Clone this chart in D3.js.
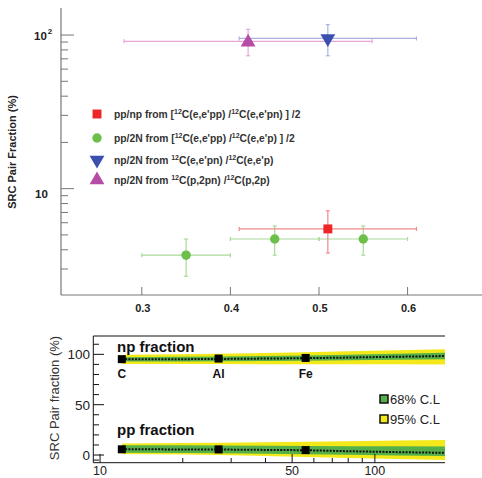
<!DOCTYPE html>
<html><head><meta charset="utf-8">
<script src="https://cdn.jsdelivr.net/npm/d3@7"></script>
<style>body{margin:0;background:#fff}svg{display:block}text{font-family:"Liberation Sans",Arial,sans-serif}</style>
</head><body>
<svg id="c" width="482" height="478"></svg>
<script>
// ---------- Top panel data ----------
const xTicksTop = [0.3, 0.4, 0.5, 0.6];
const yMajorTop = [10, 100];
const yMinorTop = [3,4,5,6,7,8,9,20,30,40,50,60,70,80,90];
// each: x, y, xlo, xhi, ylo, yhi
const ppnpX = [0.51], ppnpY = [5.47], ppnpXlo = [0.41], ppnpXhi = [0.61], ppnpYlo = [3.81], ppnpYhi = [7.17];
const pp2nX = [0.35, 0.45, 0.55], pp2nY = [3.69, 4.7, 4.7], pp2nXlo = [0.30, 0.40, 0.50], pp2nXhi = [0.40, 0.50, 0.60], pp2nYlo = [2.69, 3.69, 3.69], pp2nYhi = [4.7, 5.72, 5.72];
const npeX = [0.51], npeY = [95], npeXlo = [0.41], npeXhi = [0.61], npeYlo = [73.3], npeYhi = [117];
const nppX = [0.42], nppY = [91], nppXlo = [0.28], nppXhi = [0.56], nppYlo = [73.3], nppYhi = [109];
const legendLabels = [
  ["pp/np from [", "12", "C(e,e'pp) /", "12", "C(e,e'pn) ] /2"],
  ["pp/2N from [", "12", "C(e,e'pp) /", "12", "C(e,e'p) ] /2"],
  ["np/2N from ", "12", "C(e,e'pn) /", "12", "C(e,e'p)"],
  ["np/2N from ", "12", "C(p,2pn) /", "12", "C(p,2p)"]
];
// ---------- Bottom panel data ----------
const nuclei = ["C", "Al", "Fe"];
const nucleiA = [12, 27, 56];
const npFrac = [95.2, 95.8, 96.4];
const ppFrac = [5.7, 5.6, 4.9];
const bandA = [12, 20, 27, 40, 56, 80, 120, 180];
const npCenter = [95, 95.2, 95.4, 95.8, 96.2, 96.8, 97.6, 98.3];
const np68Hi = [97.2, 97.5, 97.8, 98.3, 98.8, 99.5, 100.5, 101.5];
const np68Lo = [92.8, 93, 93.1, 93.4, 93.7, 94.1, 94.6, 95];
const np95Hi = [99.5, 100, 100.5, 101.2, 102, 103, 104, 105];
const np95Lo = [90.5, 90.4, 90.3, 90.2, 90.2, 90.2, 90.1, 90];
const ppCenter = [5.7, 5.6, 5.5, 5.1, 4.8, 3.8, 2.9, 2.2];
const pp68Hi = [9.8, 9.7, 9.6, 9.3, 9.0, 8.8, 8.7, 8.6];
const pp68Lo = [2.3, 2.0, 1.7, 1.2, 0.8, 0.2, -0.5, -1];
const pp95Hi = [11.5, 12, 12.3, 12.8, 13.2, 13.8, 14.4, 15];
const pp95Lo = [1, 0.5, 0, -1, -2, -3, -4, -5];
const xTicksBotMajor = [10, 50, 100];
const xTicksBotMinor = [20, 30, 40, 60, 70, 80, 90];
const yTicksBotMajor = [0, 50, 100];
const yTicksBotMinor = [-5, 10, 20, 30, 40, 60, 70, 80, 90, 110];

const svg = d3.select("#c");
const axisCol = "#777";

// ================= TOP PANEL =================
const xT = d3.scaleLinear().domain([0.2088, 0.684]).range([61, 482]);
const yT = d3.scaleLog().domain([2.04, 150]).range([294.7, 8]);
const gT = svg.append("g");
gT.append("line").attr("x1", 61).attr("x2", 482).attr("y1", 295).attr("y2", 295).attr("stroke", axisCol).attr("stroke-width", 1.2);
gT.append("line").attr("x1", 61).attr("x2", 61).attr("y1", 8).attr("y2", 295).attr("stroke", axisCol).attr("stroke-width", 1.2);
xTicksTop.forEach(t => {
  gT.append("line").attr("x1", xT(t)).attr("x2", xT(t)).attr("y1", 295).attr("y2", 287).attr("stroke", axisCol);
  gT.append("text").attr("x", xT(t) + 1).attr("y", 312).attr("text-anchor", "middle").attr("font-size", 11).attr("font-weight", "bold").attr("fill", "#222").text(t.toFixed(1));
});
yMajorTop.forEach(t => gT.append("line").attr("x1", 61).attr("x2", 74).attr("y1", yT(t)).attr("y2", yT(t)).attr("stroke", axisCol));
yMinorTop.forEach(t => gT.append("line").attr("x1", 61).attr("x2", 68).attr("y1", yT(t)).attr("y2", yT(t)).attr("stroke", axisCol));
const l100 = gT.append("text").attr("x", 34).attr("y", yT(100) + 5).attr("font-size", 11.5).attr("font-weight", "bold").attr("fill", "#222");
l100.append("tspan").text("10");
l100.append("tspan").attr("font-size", 8).attr("dy", -6).attr("dx", 1).text("2");
gT.append("text").attr("x", 35).attr("y", yT(10) + 9).attr("font-size", 11.5).attr("font-weight", "bold").attr("fill", "#222").text("10");
gT.append("text").attr("transform", "translate(16,152) rotate(-90)").attr("text-anchor", "middle").attr("font-size", 11).attr("font-weight", "bold").attr("fill", "#222").text("SRC Pair Fraction (%)");

function errBars(g, X, Y, Xlo, Xhi, Ylo, Yhi, col) {
  X.forEach((x, i) => {
    const cx = xT(x), cy = yT(Y[i]);
    const x0 = xT(Xlo[i]), x1 = xT(Xhi[i]), y0 = yT(Ylo[i]), y1 = yT(Yhi[i]);
    g.append("line").attr("x1", x0).attr("x2", x1).attr("y1", cy).attr("y2", cy).attr("stroke", col).attr("stroke-width", 1.2);
    g.append("line").attr("x1", cx).attr("x2", cx).attr("y1", y0).attr("y2", y1).attr("stroke", col).attr("stroke-width", 1.2);
    [x0, x1].forEach(xx => g.append("line").attr("x1", xx).attr("x2", xx).attr("y1", cy - 2).attr("y2", cy + 2).attr("stroke", col).attr("stroke-width", 1.2));
    [y0, y1].forEach(yy => g.append("line").attr("x1", cx - 2).attr("x2", cx + 2).attr("y1", yy).attr("y2", yy).attr("stroke", col).attr("stroke-width", 1.2));
  });
}
const cRed = "#ee2628", cGreen = "#6cc04a", cBlue = "#3b4fae", cPink = "#b54ca6";
errBars(gT, nppX, nppY, nppXlo, nppXhi, nppYlo, nppYhi, "#e6a6d6");
errBars(gT, npeX, npeY, npeXlo, npeXhi, npeYlo, npeYhi, "#a9b3df");
errBars(gT, pp2nX, pp2nY, pp2nXlo, pp2nXhi, pp2nYlo, pp2nYhi, "#a9da98");
errBars(gT, ppnpX, ppnpY, ppnpXlo, ppnpXhi, ppnpYlo, ppnpYhi, "#f08a8a");

const sym = {
  square: d3.symbol().type(d3.symbolSquare).size(80),
  circle: d3.symbol().type(d3.symbolCircle).size(70),
  tri: d3.symbol().type(d3.symbolTriangle).size(95)
};
pp2nX.forEach((x, i) => gT.append("path").attr("d", sym.circle()).attr("transform", `translate(${xT(x)},${yT(pp2nY[i])})`).attr("fill", cGreen));
ppnpX.forEach((x, i) => gT.append("path").attr("d", sym.square()).attr("transform", `translate(${xT(x)},${yT(ppnpY[i])})`).attr("fill", cRed));
npeX.forEach((x, i) => gT.append("path").attr("d", sym.tri()).attr("transform", `translate(${xT(x)},${yT(npeY[i])}) rotate(180)`).attr("fill", cBlue));
nppX.forEach((x, i) => gT.append("path").attr("d", sym.tri()).attr("transform", `translate(${xT(x)},${yT(nppY[i]) + 1})`).attr("fill", cPink));

const legY = [114, 138, 160, 180];
const legSym = [["square", cRed, 0], ["circle", cGreen, 0], ["tri", cBlue, 180], ["tri", cPink, 0]];
legendLabels.forEach((parts, i) => {
  const s = legSym[i];
  gT.append("path").attr("d", sym[s[0]]()).attr("transform", `translate(97,${legY[i]}) rotate(${s[2]})`).attr("fill", s[1]);
  const t = gT.append("text").attr("x", 114).attr("y", legY[i] + 3.5).attr("font-size", 10.3).attr("font-weight", "bold").attr("fill", "#333");
  parts.forEach((p, j) => {
    if (j % 2 === 1) t.append("tspan").attr("font-size", 7).attr("dy", -4).text(p);
    else t.append("tspan").attr("dy", j === 0 ? 0 : 4).text(p);
  });
});

// ================= BOTTOM PANEL =================
const xB = d3.scaleLog().domain([9.45, 180]).range([93.3, 445]);
const yB = d3.scaleLinear().domain([-7.6, 118.2]).range([462.7, 336]);
const gB = svg.append("g");
const area = (hi, lo) => d3.area().x((d, i) => xB(bandA[i])).y0((d, i) => yB(lo[i])).y1((d, i) => yB(hi[i]))(bandA);
const line = (c) => d3.line().x((d, i) => xB(bandA[i])).y((d, i) => yB(c[i]))(bandA);
[[np95Hi, np95Lo, np68Hi, np68Lo, npCenter], [pp95Hi, pp95Lo, pp68Hi, pp68Lo, ppCenter]].forEach(b => {
  gB.append("path").attr("d", area(b[0], b[1])).attr("fill", "#f2e81a");
  gB.append("path").attr("d", area(b[2], b[3])).attr("fill", "#55b04a");
  gB.append("path").attr("d", line(b[4])).attr("fill", "none").attr("stroke", "#111").attr("stroke-width", 2).attr("stroke-dasharray", "2,1.3");
});
[npFrac, ppFrac].forEach(arr => nucleiA.forEach((a, i) =>
  gB.append("rect").attr("x", xB(a) - 4).attr("y", yB(arr[i]) - 4).attr("width", 8).attr("height", 8).attr("fill", "#000")));
nucleiA.forEach((a, i) => gB.append("text").attr("x", xB(a)).attr("y", 378).attr("text-anchor", "middle").attr("font-size", 12).attr("font-weight", "bold").attr("fill", "#111").text(nuclei[i]));
gB.append("text").attr("x", 117).attr("y", 352).attr("font-size", 15).attr("font-weight", "bold").attr("fill", "#111").text("np fraction");
gB.append("text").attr("x", 117).attr("y", 435).attr("font-size", 15).attr("font-weight", "bold").attr("fill", "#111").text("pp fraction");
gB.append("line").attr("x1", 93.3).attr("x2", 445).attr("y1", 336).attr("y2", 336).attr("stroke", "#111").attr("stroke-width", 1);
gB.append("line").attr("x1", 93.3).attr("x2", 93.3).attr("y1", 336).attr("y2", 462.7).attr("stroke", "#111").attr("stroke-width", 1);
gB.append("line").attr("x1", 93.3).attr("x2", 445).attr("y1", 462.7).attr("y2", 462.7).attr("stroke", "#111").attr("stroke-width", 1);
yTicksBotMajor.forEach(t => {
  gB.append("line").attr("x1", 93.3).attr("x2", 104).attr("y1", yB(t)).attr("y2", yB(t)).attr("stroke", "#111");
  gB.append("text").attr("x", 90).attr("y", yB(t) + 5).attr("text-anchor", "end").attr("font-size", 13.5).attr("fill", "#222").text(t);
});
yTicksBotMinor.forEach(t => gB.append("line").attr("x1", 93.3).attr("x2", 99).attr("y1", yB(t)).attr("y2", yB(t)).attr("stroke", "#111"));
xTicksBotMajor.forEach(t => {
  gB.append("line").attr("x1", xB(t)).attr("x2", xB(t)).attr("y1", 462.7).attr("y2", 454).attr("stroke", "#111");
  gB.append("text").attr("x", xB(t)).attr("y", 475).attr("text-anchor", "middle").attr("font-size", 12.5).attr("fill", "#222").text(t);
});
xTicksBotMinor.forEach(t => gB.append("line").attr("x1", xB(t)).attr("x2", xB(t)).attr("y1", 462.7).attr("y2", 458).attr("stroke", "#111"));
gB.append("text").attr("transform", "translate(59,398) rotate(-90)").attr("text-anchor", "middle").attr("font-size", 13).attr("fill", "#333").text("SRC Pair fraction (%)");
[["68% C.L", "#55b04a", 399], ["95% C.L", "#f2e81a", 419]].forEach(l => {
  gB.append("rect").attr("x", 380).attr("y", l[2] - 4).attr("width", 8).attr("height", 8).attr("fill", l[1]).attr("stroke", "#111").attr("stroke-width", 1.5);
  gB.append("text").attr("x", 390).attr("y", l[2] + 5).attr("font-size", 13).attr("fill", "#222").text(l[0]);
});
</script>
</body></html>
